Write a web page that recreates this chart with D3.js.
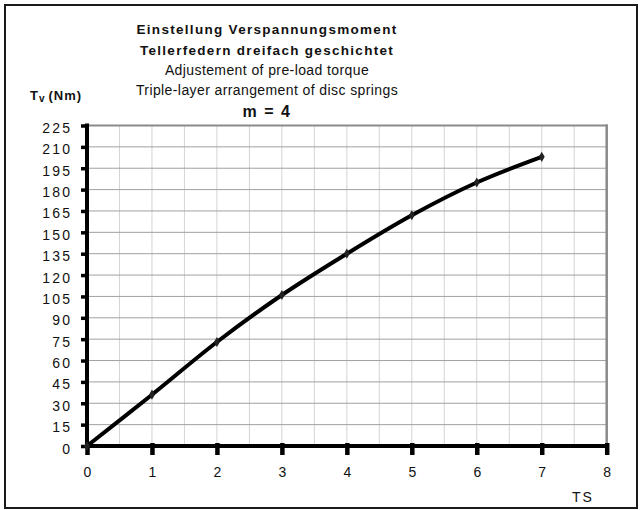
<!DOCTYPE html>
<html>
<head>
<meta charset="utf-8">
<script src="https://cdn.jsdelivr.net/npm/d3@7"></script>
<style>
  html, body { margin: 0; padding: 0; background: #fff; }
  svg { display: block; font-family: "Liberation Sans", Arial, sans-serif; }
</style>
</head>
<body>
<svg id="chart" width="642" height="510"></svg>
<script>
// Pre-load torque T_v over adjustment steps TS
const steps = [0, 1, 2, 3, 4, 5, 6, 7];
const torque = [0, 36, 73, 106, 135, 162, 185, 203];
const xTicks = [0, 1, 2, 3, 4, 5, 6, 7, 8];
const yTicks = [0, 15, 30, 45, 60, 75, 90, 105, 120, 135, 150, 165, 180, 195, 210, 225];
const titleLines = [
  { text: "Einstellung Verspannungsmoment", bold: true },
  { text: "Tellerfedern dreifach geschichtet", bold: true },
  { text: "Adjustement of pre-load torque", bold: false },
  { text: "Triple-layer arrangement of disc springs", bold: false }
];
const subtitle = "m = 4";

const svg = d3.select("#chart");

// outer frame
svg.append("rect")
  .attr("x", 5).attr("y", 5).attr("width", 632).attr("height", 503)
  .attr("fill", "#fff").attr("stroke", "#1a1a1a").attr("stroke-width", 2);

const x = d3.scaleLinear().domain([0, 8]).range([87, 606.7]);
const y = d3.scaleLinear().domain([0, 225]).range([446, 125.5]);

// vertical grid at half steps
const vGrid = d3.range(0.5, 8, 0.5);
svg.append("g").selectAll("line").data(vGrid).join("line")
  .attr("x1", d => x(d)).attr("x2", d => x(d))
  .attr("y1", y(225)).attr("y2", y(0))
  .attr("stroke", "#d4d4d4").attr("stroke-width", 1);

// horizontal grid
svg.append("g").selectAll("line").data(yTicks.filter(v => v > 0 && v < 225)).join("line")
  .attr("x1", x(0)).attr("x2", x(8))
  .attr("y1", d => y(d)).attr("y2", d => y(d))
  .attr("stroke", "#a0a0a0").attr("stroke-width", 1);

// plot frame top and right
svg.append("line")
  .attr("x1", x(0)).attr("x2", x(8) + 1)
  .attr("y1", y(225)).attr("y2", y(225))
  .attr("stroke", "#8a8a8a").attr("stroke-width", 2);
svg.append("line")
  .attr("x1", x(8)).attr("x2", x(8))
  .attr("y1", y(225) - 1).attr("y2", y(0))
  .attr("stroke", "#8a8a8a").attr("stroke-width", 2.5);

// y axis
const yAxis = svg.append("g")
  .attr("transform", `translate(${x(0)},0)`)
  .call(d3.axisLeft(y).tickValues(yTicks).tickSize(6).tickPadding(11).tickSizeOuter(0));
yAxis.select(".domain").attr("stroke", "#000").attr("stroke-width", 4)
  .attr("d", `M0,${y(0) + 2}V${y(225) - 2}`);
yAxis.selectAll(".tick line").attr("stroke", "#000").attr("stroke-width", 3.5);
yAxis.selectAll(".tick text")
  .attr("font-size", 14).attr("fill", "#111")
  .attr("font-family", "Liberation Sans, Arial, sans-serif")
  .style("letter-spacing", "2.2px")
  .attr("dx", "2.2px").attr("dy", "0.5em");

// x axis
const xAxis = svg.append("g")
  .attr("transform", `translate(0,${y(0)})`)
  .call(d3.axisBottom(x).tickValues(xTicks).tickSize(9).tickPadding(12).tickSizeOuter(0));
xAxis.select(".domain").attr("stroke", "#000").attr("stroke-width", 4)
  .attr("d", `M${x(0) - 2},0H${x(8) + 2}`);
xAxis.selectAll(".tick line").attr("stroke", "#000").attr("stroke-width", 4.5)
  .attr("y1", -3);
xAxis.selectAll(".tick text")
  .attr("font-size", 14).attr("fill", "#111")
  .attr("font-family", "Liberation Sans, Arial, sans-serif");

// data curve
const line = d3.line()
  .x((d, i) => x(steps[i]))
  .y(d => y(d))
  .curve(d3.curveCatmullRom.alpha(0.5));
svg.append("path")
  .datum(torque)
  .attr("d", line)
  .attr("fill", "none")
  .attr("stroke", "#000")
  .attr("stroke-width", 4)
  .attr("stroke-linejoin", "round")
  .attr("stroke-linecap", "round");

// point markers
svg.append("g").selectAll("path").data(torque).join("path")
  .attr("transform", (d, i) => `translate(${x(steps[i])},${y(d)})`)
  .attr("d", d3.symbol(d3.symbolDiamond, 30))
  .attr("fill", "#222");

// titles
const cx = 267;
const baselines = [34, 55, 75, 95];
titleLines.forEach((t, i) => {
  svg.append("text")
    .attr("x", cx).attr("y", baselines[i])
    .attr("text-anchor", "middle")
    .attr("font-size", t.bold ? 13.5 : 14)
    .attr("font-weight", t.bold ? "bold" : "normal")
    .style("letter-spacing", t.bold ? "1.3px" : "0.4px")
    .attr("fill", "#111")
    .text(t.text);
});
svg.append("text")
  .attr("x", cx).attr("y", 117)
  .attr("text-anchor", "middle")
  .attr("font-size", 16).attr("font-weight", "bold")
  .style("letter-spacing", "1.5px")
  .attr("fill", "#111")
  .text(subtitle);

// axis titles
const yTitle = svg.append("text")
  .attr("x", 30).attr("y", 100)
  .attr("font-size", 13).attr("font-weight", "bold")
  .style("letter-spacing", "1px")
  .attr("fill", "#111");
yTitle.append("tspan").text("T");
yTitle.append("tspan").attr("font-size", 10).attr("dy", 2).text("v");
yTitle.append("tspan").attr("dy", -2).attr("dx", 3).text("(Nm)");

svg.append("text")
  .attr("x", 583).attr("y", 502)
  .attr("text-anchor", "middle")
  .attr("font-size", 14)
  .style("letter-spacing", "2px")
  .attr("fill", "#111")
  .text("TS");
</script>
</body>
</html>
